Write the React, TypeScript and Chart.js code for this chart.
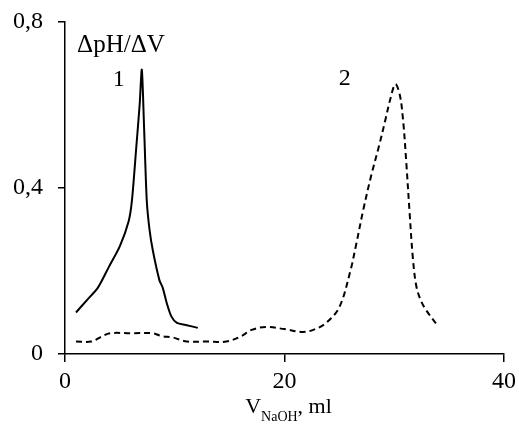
import React, { useEffect, useRef } from "react";
import { Chart, registerables } from "chart.js";

Chart.register(...registerables);

const curve1X = [1, 2, 3, 4, 5, 5.8, 6.1, 6.5, 6.8, 7.0, 7.2, 7.45, 7.7, 8.0, 8.6, 8.9, 9.3, 9.7, 10.2, 11, 12.1];
const curve1Y = [0.1, 0.13, 0.16, 0.21, 0.26, 0.32, 0.37, 0.5, 0.6, 0.685, 0.55, 0.37, 0.3, 0.25, 0.178, 0.16, 0.12, 0.09, 0.075, 0.07, 0.063];

const curve2X = [1, 2.4, 3.2, 4.1, 6, 8, 8.8, 9.8, 10.4, 11.1, 13, 14.7, 16, 17, 18.3, 20, 21.7, 22.8, 23.8, 25, 26, 26.5, 27.2, 27.9, 28.6, 29.2, 29.6, 30.1, 30.5, 30.8, 31.1, 31.4, 31.7, 32.0, 32.4, 32.9, 33.9];
const curve2Y = [0.03, 0.03, 0.04, 0.05, 0.05, 0.05, 0.043, 0.04, 0.035, 0.03, 0.03, 0.03, 0.042, 0.058, 0.065, 0.06, 0.053, 0.06, 0.075, 0.113, 0.2, 0.26, 0.35, 0.43, 0.5, 0.565, 0.61, 0.65, 0.625, 0.565, 0.46, 0.34, 0.23, 0.165, 0.13, 0.106, 0.07];

const yTicks = [0, 0.4, 0.8];
const xTicks = [0, 20, 40];
const curveLabels = ["1", "2"];
const yAxisTitle = "ΔpH/ΔV";

const FONT = "'Liberation Serif', 'Times New Roman', serif";

export default function App() {
  const ref = useRef<HTMLCanvasElement>(null);
  useEffect(() => {
    const canvas = ref.current!;
    const textPlugin = {
      id: "texts",
      afterDraw(chart: any) {
        const ctx = chart.ctx;
        const xs = chart.scales.x;
        const ys = chart.scales.y;
        ctx.save();
        ctx.fillStyle = "#000";
        ctx.textBaseline = "alphabetic";
        ctx.font = `25px ${FONT}`;
        ctx.textAlign = "left";
        ctx.fillText(yAxisTitle, xs.getPixelForValue(1.1), ys.getPixelForValue(0.728));
        ctx.font = `24px ${FONT}`;
        ctx.textAlign = "center";
        ctx.fillText(curveLabels[0], xs.getPixelForValue(4.9), ys.getPixelForValue(0.646));
        ctx.fillText(curveLabels[1], xs.getPixelForValue(25.5), ys.getPixelForValue(0.648));
        // x-axis title with subscript
        const main = "V";
        const sub = "NaOH";
        const rest = ", ml";
        ctx.font = `22px ${FONT}`;
        const wMain = ctx.measureText(main).width;
        const wRest = ctx.measureText(rest).width;
        ctx.font = `14px ${FONT}`;
        const wSub = ctx.measureText(sub).width;
        const total = wMain + wSub + wRest;
        const cx = 288.5;
        const x0 = cx - total / 2;
        const base = 413;
        ctx.textAlign = "left";
        ctx.font = `22px ${FONT}`;
        ctx.fillText(main, x0, base);
        ctx.font = `14px ${FONT}`;
        ctx.fillText(sub, x0 + wMain, base + 8);
        ctx.font = `22px ${FONT}`;
        ctx.fillText(rest, x0 + wMain + wSub, base);
        ctx.restore();
      },
    };
    const chart = new Chart(canvas, {
      type: "line",
      data: {
        datasets: [
          {
            data: curve1X.map((x, i) => ({ x, y: curve1Y[i] })),
            borderColor: "#000",
            borderWidth: 2,
            pointRadius: 0,
            tension: 0.25,
            fill: false,
          },
          {
            data: curve2X.map((x, i) => ({ x, y: curve2Y[i] })),
            borderColor: "#000",
            borderWidth: 2,
            borderDash: [6, 4],
            pointRadius: 0,
            tension: 0.35,
            fill: false,
          },
        ],
      },
      options: {
        animation: false,
        responsive: false,
        maintainAspectRatio: false,
        layout: { padding: { left: 0, right: 15, top: 22, bottom: 0 } },
        plugins: { legend: { display: false }, tooltip: { enabled: false }, title: { display: false } },
        scales: {
          x: {
            type: "linear",
            min: 0,
            max: 40,
            afterBuildTicks: (s: any) => {
              s.ticks = xTicks.map((v) => ({ value: v }));
            },
            afterFit: (s: any) => {
              s.height = 72;
              s.paddingLeft = 0;
              s.paddingRight = 0;
            },
            ticks: {
              color: "#000",
              font: { family: FONT, size: 24 },
              padding: 5,
              maxRotation: 0,
              callback: (v: any) => String(v),
            },
            grid: { drawOnChartArea: false, drawTicks: true, tickLength: 8, color: "#000", lineWidth: 1.5 },
            border: { display: true, color: "#000", width: 1.5 },
          },
          y: {
            type: "linear",
            min: 0,
            max: 0.8,
            afterBuildTicks: (s: any) => {
              s.ticks = yTicks.map((v) => ({ value: v }));
            },
            afterFit: (s: any) => {
              s.width = 65;
              s.paddingTop = 0;
              s.paddingBottom = 0;
            },
            ticks: {
              color: "#000",
              font: { family: FONT, size: 24 },
              padding: 15,
              callback: (v: any) => String(v).replace(".", ","),
            },
            grid: { drawOnChartArea: false, drawTicks: true, tickLength: 7, color: "#000", lineWidth: 1.5 },
            border: { display: true, color: "#000", width: 1.5 },
          },
        },
      },
      plugins: [textPlugin],
    } as any);
    return () => chart.destroy();
  }, []);
  return (
    <div style={{ position: "fixed", left: 0, top: 0, width: 519, height: 426, background: "#fff" }}>
      <canvas ref={ref} width={519} height={426} style={{ width: 519, height: 426, display: "block" }} />
    </div>
  );
}
